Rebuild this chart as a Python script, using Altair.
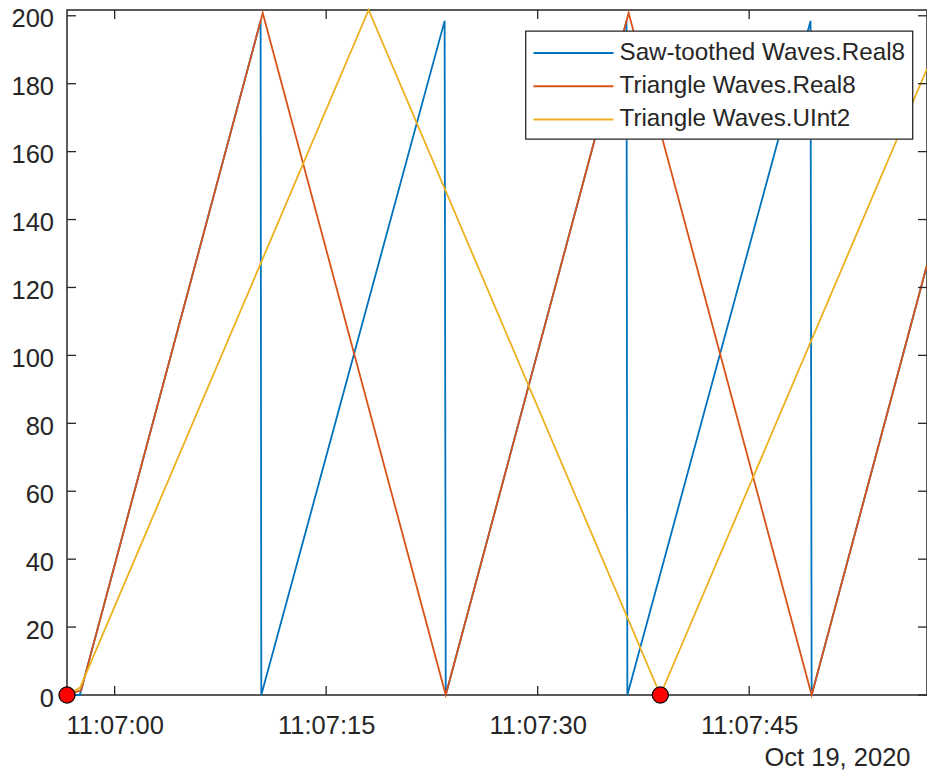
import altair as alt
import pandas as pd

# ---- data (seconds relative to 11:07:00 on Oct 19, 2020) ----
BASE = "2020-10-19T11:07:00"
T_START = -3.38
T_END = 57.61

series_names = ["Saw-toothed Waves.Real8", "Triangle Waves.Real8", "Triangle Waves.UInt2"]
series_colors = ["#0072BD", "#D95319", "#EDB120"]

saw_t = [-3.38, -2.47, 10.35, 10.40, 23.40, 23.48, 36.30, 36.36, 49.35, 49.43, 57.61]
saw_v = [0, 0, 198.5, 0, 198.5, 0, 198.5, 0, 198.5, 0, 126.6]

tri8_t = [-3.38, -2.38, 10.50, 23.48, 36.45, 49.43, 57.61]
tri8_v = [0, 1.4, 200.8, 0, 200.8, 0, 126.6]

triu_t = [-3.38, -2.45, 18.01, 38.70, 57.61]
triu_v = [0, 2.2, 201.7, 0, 184.4]

marker_t = [-3.38, 38.70]
marker_v = [0, 0]

y_ticks = [0, 20, 40, 60, 80, 100, 120, 140, 160, 180, 200]
x_ticks = [0, 15, 30, 45]
date_label = "Oct 19, 2020"
Y_MAX = 201.7

FONT = "Liberation Sans"
INK = "#262626"
W, H = 860, 685


def ts(sec):
    dt = pd.Timestamp(BASE) + pd.Timedelta(seconds=sec)
    return dt.strftime("%Y-%m-%dT%H:%M:%S.") + f"{dt.microsecond // 1000:03d}"


def dtobj(sec):
    dt = pd.Timestamp(BASE) + pd.Timedelta(seconds=sec)
    return alt.DateTime(year=dt.year, month=dt.month, date=dt.day, hours=dt.hour,
                        minutes=dt.minute, seconds=dt.second,
                        milliseconds=dt.microsecond // 1000)


rows = []
for name, tt, vv in zip(series_names, [saw_t, tri8_t, triu_t], [saw_v, tri8_v, triu_v]):
    for i, (t, v) in enumerate(zip(tt, vv)):
        rows.append({"series": name, "time": ts(t), "value": v, "order": i})
line_df = pd.DataFrame(rows)

marker_df = pd.DataFrame({"time": [ts(t) for t in marker_t], "value": marker_v})
ytick_df = pd.DataFrame({"value": y_ticks})
xtick_df = pd.DataFrame({"time": [ts(t) for t in x_ticks]})

x_enc = alt.X(
    "time:T",
    scale=alt.Scale(domain=[dtobj(T_START), dtobj(T_END)], nice=False),
    axis=alt.Axis(
        values=[dtobj(t) for t in x_ticks], format="%H:%M:%S",
        labelFont=FONT, labelFontSize=25.5, labelColor=INK, labelPadding=18.5,
        ticks=False, tickSize=0, domain=False, grid=False, labelFlush=False,
        title=date_label, titleFont=FONT, titleFontSize=25.5, titleFontWeight="normal",
        titleColor=INK, titleX=843, titleY=70, titleAlign="right",
        titleBaseline="alphabetic", titleAnchor="end",
    ),
)
y_enc = alt.Y(
    "value:Q",
    scale=alt.Scale(domain=[0, Y_MAX], nice=False, zero=False),
    axis=alt.Axis(
        values=y_ticks, labelFont=FONT, labelFontSize=25.5, labelColor=INK,
        labelPadding=13.5, labelOffset=3, ticks=False, tickSize=0, domain=False,
        grid=False, title=None,
    ),
)
color_enc = alt.Color(
    "series:N",
    scale=alt.Scale(domain=series_names, range=series_colors),
    legend=alt.Legend(
        orient="none", legendX=458.5, legendY=21, title=" ", titleFontSize=2,
        titlePadding=0.5, symbolType="stroke",
        symbolSize=6400, symbolStrokeWidth=2, labelFont=FONT, labelFontSize=24.2,
        labelColor=INK, padding=7, strokeColor=INK, fillColor="white",
        rowPadding=8.2, clipHeight=25, labelOffset=5, symbolOffset=0,
        cornerRadius=0, direction="vertical", labelLimit=400,
    ),
)

base = alt.Chart(line_df)
lines = [
    base.transform_filter(alt.datum.series == name)
    .mark_line(strokeWidth=1.8, clip=False)
    .encode(x=x_enc, y=y_enc, color=color_enc, order="order:Q")
    for name in series_names
]

tick_style = dict(color=INK, strokeWidth=1.3)
ytick_left = alt.Chart(ytick_df).mark_rule(**tick_style).encode(
    y=y_enc, x=alt.value(0), x2=alt.value(9))
ytick_right = alt.Chart(ytick_df).mark_rule(**tick_style).encode(
    y=y_enc, x=alt.value(W), x2=alt.value(W - 9))
xtick_bottom = alt.Chart(xtick_df).mark_rule(**tick_style).encode(
    x=x_enc, y=alt.value(H), y2=alt.value(H - 9))
xtick_top = alt.Chart(xtick_df).mark_rule(**tick_style).encode(
    x=x_enc, y=alt.value(0), y2=alt.value(9))

markers = alt.Chart(marker_df).mark_point(
    filled=True, fill="#FF0000", stroke="#000000", strokeWidth=1.2,
    size=260, opacity=1, shape="circle",
).encode(x=x_enc, y=y_enc)

chart = alt.layer(
    *lines, ytick_left, ytick_right, xtick_bottom, xtick_top, markers
).properties(
    width=W, height=H,
    autosize=alt.AutoSizeParams(type="none"),
    padding={"left": 59, "top": 2, "right": 0, "bottom": 75},
    background="white",
).configure_view(
    stroke=INK, strokeWidth=1.5,
).configure_legend(
    strokeWidth=1.3,
)

chart.save("out.html", embed_options={"renderer": "svg", "actions": False})
